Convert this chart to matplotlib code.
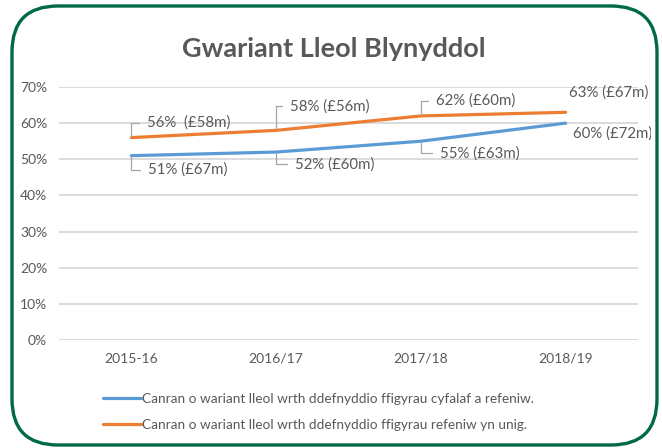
import matplotlib.pyplot as plt
import numpy as np
from matplotlib.patches import FancyBboxPatch, Rectangle

plt.rcParams["font.family"] = ["Lato", "DejaVu Sans"]

years = ["2015-16", "2016/17", "2017/18", "2018/19"]
capital_and_revenue = [51, 52, 55, 60]
revenue_only = [56, 58, 62, 63]
capital_labels = ["51% (£67m)", "52% (£60m)", "55% (£63m)", "60% (£72m)"]
revenue_labels = ["56%  (£58m)", "58% (£56m)", "62% (£60m)", "63% (£67m)"]
legend_labels = [
    "Canran o wariant lleol wrth ddefnyddio ffigyrau cyfalaf a refeniw.",
    "Canran o wariant lleol wrth ddefnyddio ffigyrau refeniw yn unig.",
]

W, H = 662, 448
grey = "#595959"
blue = "#5B9BD5"
orange = "#ED7D31"
green = "#00694A"

fig = plt.figure(figsize=(W / 100, H / 100), dpi=100)

# pixel-space overlay for the rounded frame
bg = fig.add_axes([0, 0, 1, 1])
bg.set_xlim(0, W)
bg.set_ylim(H, 0)
bg.axis("off")
frame = FancyBboxPatch((12, 6), 645, 439, boxstyle="round,pad=0,rounding_size=46",
                       facecolor="white", edgecolor=green, linewidth=2.4)
bg.add_patch(frame)

ax = fig.add_axes([59 / W, (H - 340) / H, (638 - 59) / W, (340 - 87) / H])
ax.set_facecolor("none")
x = np.arange(len(years))
l1, = ax.plot(x, capital_and_revenue, color=blue, lw=2.3, solid_capstyle="round")
l2, = ax.plot(x, revenue_only, color=orange, lw=2.3, solid_capstyle="round")

ax.set_xlim(-0.5, len(years) - 0.5)
ax.set_ylim(0, 70)
ax.set_yticks(range(0, 71, 10))
ax.set_yticklabels([f"{v}%" for v in range(0, 71, 10)])
ax.set_xticks(x)
ax.set_xticklabels(years)
ax.grid(axis="y", color="#D9D9D9", lw=1.3)
ax.set_axisbelow(True)
for s in ax.spines.values():
    s.set_visible(False)
ax.tick_params(length=0, colors=grey, labelsize=10)
ax.tick_params(axis="y", pad=8.5)
ax.tick_params(axis="x", pad=9)

leader = dict(arrowstyle="-", color="#A6A6A6", lw=0.9, shrinkA=4, shrinkB=1,
              relpos=(0, 0.5), connectionstyle="angle,angleA=0,angleB=90,rad=0")

# (dx, dy) offsets in pixels from the point, leader or not
rev_off = [(16, 15, True), (14, 24, True), (15, 15, True), (3, 20, False)]
cap_off = [(17, -14, True), (19, -12, True), (19, -12, True), (7, -10, False)]

clip = Rectangle((0, 0), 651 / W, 1, transform=fig.transFigure)
for vals, labels, offs in [(revenue_only, revenue_labels, rev_off),
                           (capital_and_revenue, capital_labels, cap_off)]:
    for i, (v, lab, (dx, dy, lead)) in enumerate(zip(vals, labels, offs)):
        t = ax.annotate(lab, xy=(i, v), xytext=(dx, dy), textcoords="offset pixels",
                        ha="left", va="center", fontsize=10.8, color=grey,
                        arrowprops=leader if lead else None, annotation_clip=False)
        # the chart area cuts the last label short, as in the original
        t.set_clip_path(clip)
        t.set_clip_on(True)

fig.suptitle("Gwariant Lleol Blynyddol", x=0.505, y=(H - 49) / H, va="center",
             fontsize=19.5, fontweight="bold", color=grey)

fig.legend([l1, l2], legend_labels, loc="center left",
           bbox_to_anchor=(103 / W, (H - 412) / H), frameon=False,
           fontsize=9.8, labelcolor=grey, handlelength=2.8, handletextpad=0.1,
           labelspacing=1.0, borderpad=0, borderaxespad=0)

fig.savefig("out.png", dpi=100)
